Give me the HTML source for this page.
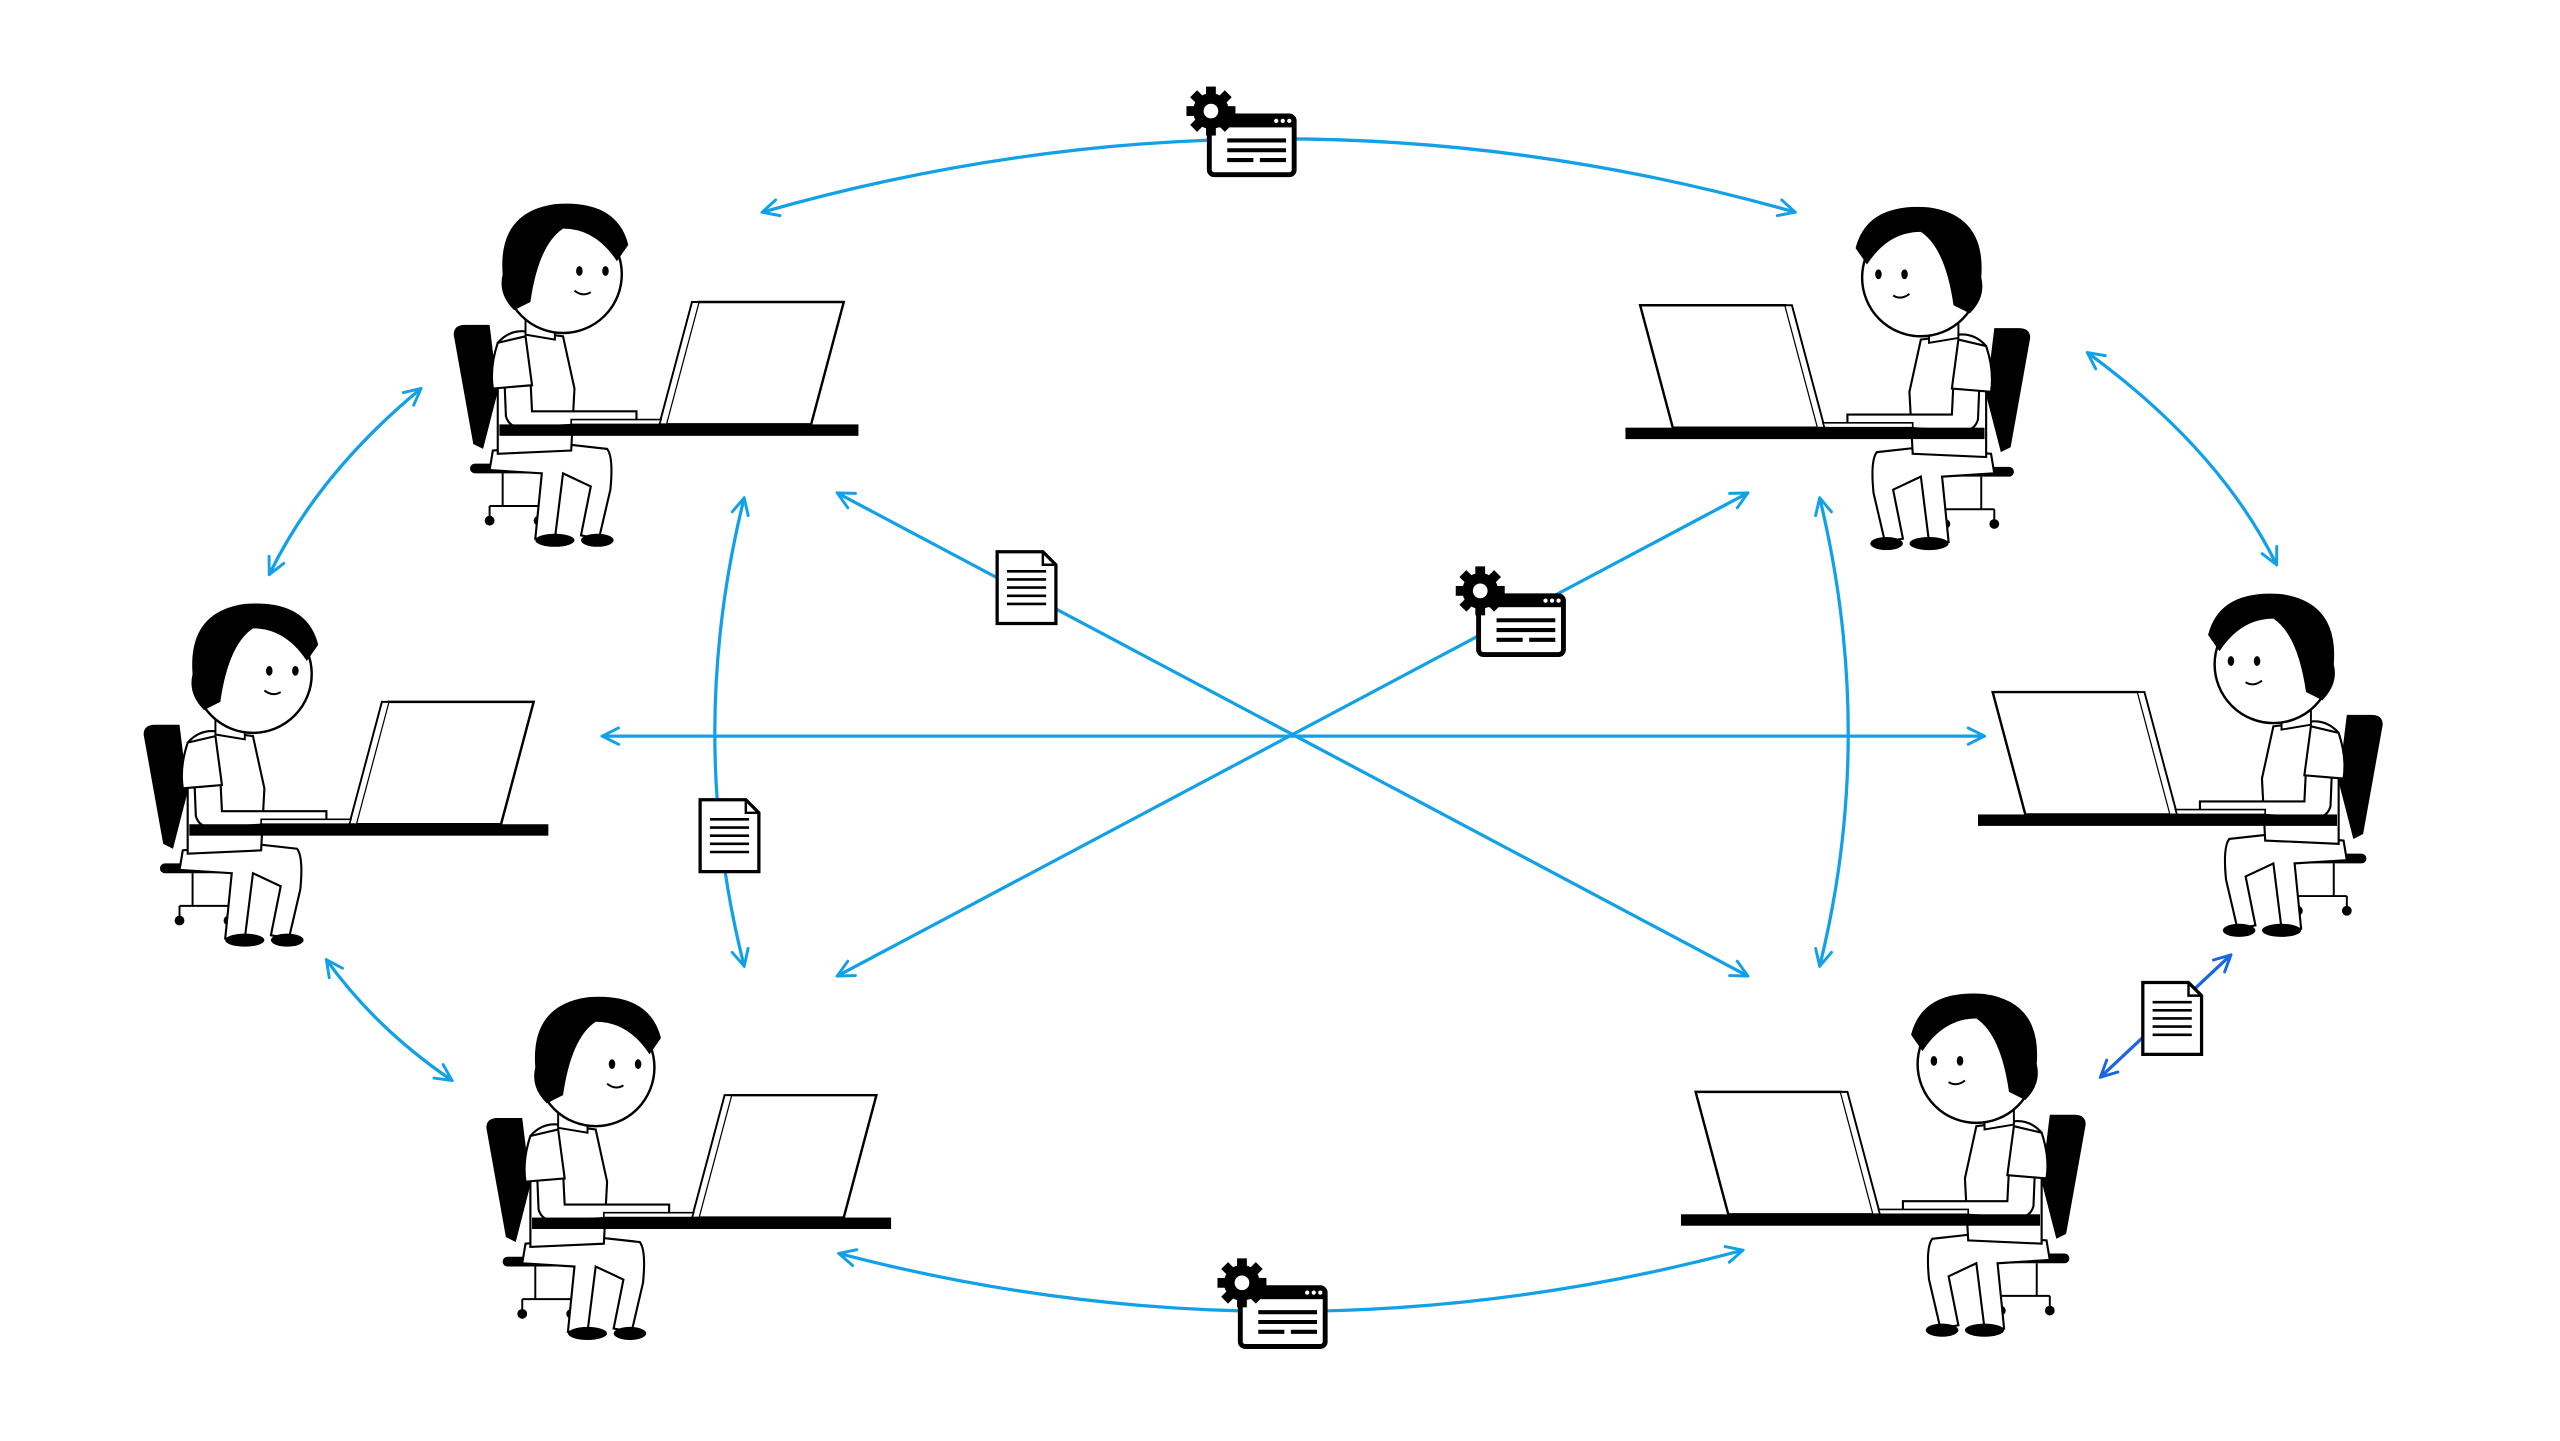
<!DOCTYPE html>
<html><head><meta charset="utf-8"><style>
html,body{margin:0;padding:0;background:#fff;}
svg{display:block;}
</style></head><body>
<svg width="2560" height="1441" viewBox="0 0 1560 878" xmlns="http://www.w3.org/2000/svg">
<defs>
<marker id="ah" viewBox="0 0 12 12" refX="11" refY="6" markerWidth="12" markerHeight="12" markerUnits="userSpaceOnUse" orient="auto-start-reverse">
<path d="M1,1 L11,6 L1,11" fill="none" stroke="#12a0e6" stroke-width="1.8" stroke-linecap="round"/>
</marker>
<marker id="ah2" viewBox="0 0 12 12" refX="11" refY="6" markerWidth="12" markerHeight="12" markerUnits="userSpaceOnUse" orient="auto-start-reverse">
<path d="M1,1 L11,6 L1,11" fill="none" stroke="#1a66e0" stroke-width="1.8" stroke-linecap="round"/>
</marker>
<g id="person">
  <path d="M278,205 Q278,199 285,199 L300,199 L305,240 L296,275 L290,272 Z" fill="#000"/>
  <rect x="288" y="284" width="65" height="6" rx="3" fill="#000"/>
  <path d="M308,290 V310 M300,310 H330 M300,310 V318 M330,310 V318" stroke="#000" stroke-width="1.2" fill="none"/>
  <circle cx="300" cy="319" r="3" fill="#000"/><circle cx="330" cy="319" r="3" fill="#000"/>
  <path d="M302,276 L345,272 L372,275 Q376,280 374,300 L367,330 L356,328 L362,298 L345,290 L340,330 L328,330 L332,290 L300,288 Z" fill="#fff" stroke="#000" stroke-width="1.3"/>
  <ellipse cx="340" cy="331" rx="12" ry="4" fill="#000"/><ellipse cx="366" cy="331" rx="10" ry="4" fill="#000"/>
  <path d="M305,210 Q312,202 322,203 L345,206 L352,238 L350,276 L305,278 Z" fill="#fff" stroke="#000" stroke-width="1.3"/>
  <path d="M309,230 L310,255 Q312,262 320,262 L390,258 L390,252 L326,252 L325,232 Z" fill="#fff" stroke="#000" stroke-width="1.3"/>
  <path d="M305,210 Q300,225 302,238 L326,236 L322,206 Z" fill="#fff" stroke="#000" stroke-width="1.3"/>
  <path d="M322,192 L322,205 L340,208 L340,195 Z" fill="#fff" stroke="#000" stroke-width="1.2"/>
  <circle cx="345" cy="168" r="36" fill="#fff" stroke="#000" stroke-width="1.5"/>
  <path d="M308,168 Q305,130 340,125 Q378,122 385,150 L378,160 Q365,140 345,140 Q330,150 325,185 L315,190 Q305,180 308,168 Z" fill="#000"/>
  <ellipse cx="355" cy="166" rx="2" ry="3" fill="#000"/><ellipse cx="371" cy="166" rx="2" ry="3" fill="#000"/>
  <path d="M352,178 Q357,182 362,179" fill="none" stroke="#000" stroke-width="1.2"/>
  <rect x="306" y="260" width="220" height="7" fill="#000"/>
  <path d="M428,185 L517,185 L497,260 L408,260 Z" fill="#fff" stroke="#000" stroke-width="1.5"/>
  <path d="M428,185 L424,185 L404,260 L408,260" fill="#fff" stroke="#000" stroke-width="1.2"/>
  <path d="M350,257 L405,257 L404,260 L350,260 Z" fill="#fff" stroke="#000" stroke-width="1"/>
</g>
<g id="gearwin">
  <rect x="-21" y="-15" width="52" height="36" rx="3" fill="#fff" stroke="#000" stroke-width="3"/>
  <rect x="-21" y="-15" width="52" height="7" fill="#000"/>
  <circle cx="20" cy="-12" r="1.3" fill="#fff"/><circle cx="24" cy="-12" r="1.3" fill="#fff"/><circle cx="28" cy="-12" r="1.3" fill="#fff"/>
  <path d="M-10,0 H26 M-10,6 H26 M-10,12 H6 M10,12 H26" stroke="#000" stroke-width="2.5"/>
  <circle cx="-20" cy="-18" r="11" fill="#000"/>
  <g fill="#000">
    <rect x="-23" y="-33" width="6" height="8"/><rect x="-23" y="-11" width="6" height="8"/>
    <rect x="-35" y="-21" width="8" height="6"/><rect x="-13" y="-21" width="8" height="6"/>
    <rect x="-23" y="-33" width="6" height="8" transform="rotate(45 -20 -18)"/><rect x="-23" y="-33" width="6" height="8" transform="rotate(-45 -20 -18)"/>
    <rect x="-23" y="-11" width="6" height="8" transform="rotate(45 -20 -18)"/><rect x="-23" y="-11" width="6" height="8" transform="rotate(-45 -20 -18)"/>
  </g>
  <circle cx="-20" cy="-18" r="4.5" fill="#fff"/>
</g>
<g id="doc">
  <path d="M-18,-22 H10 L18,-14 V22 H-18 Z" fill="#fff" stroke="#000" stroke-width="2"/>
  <path d="M10,-22 V-14 H18" fill="none" stroke="#000" stroke-width="1.5"/>
  <path d="M-12,-10 H12 M-12,-5 H12 M-12,0 H12 M-12,5 H12 M-12,10 H12" stroke="#000" stroke-width="1.6"/>
</g>
</defs>
<g transform="scale(0.9945)">
<g fill="none" stroke="#12a0e6" stroke-width="2" marker-start="url(#ah)" marker-end="url(#ah)">
  <path d="M467,130 Q783,40 1100,130"/>
  <path d="M514,768 Q790,840 1068,766"/>
  <path d="M258,238 Q195,290 165,352"/>
  <path d="M200,588 Q230,630 277,662"/>
  <path d="M1279,216 Q1360,275 1395,346"/>
  <path d="M456,305 Q420,450 456,592"/>
  <path d="M1115,305 Q1150,450 1115,592"/>
  <path d="M369,451 L1216,451"/>
  <path d="M513,302 L1071,598"/>
  <path d="M513,598 L1071,302"/>
</g>
<path d="M1287,660 L1367,585" fill="none" stroke="#1a66e0" stroke-width="2" marker-start="url(#ah2)" marker-end="url(#ah2)"/>

<use href="#gearwin" x="762" y="86"/>
<use href="#gearwin" x="781" y="804"/>
<use href="#gearwin" x="927" y="380"/>
<use href="#doc" x="629" y="360"/>
<use href="#doc" x="447" y="512"/>
<use href="#doc" x="1331" y="624"/>

<use href="#person"/>
<use href="#person" transform="translate(-190,245)"/>
<use href="#person" transform="translate(20,486)"/>
<use href="#person" transform="translate(1522,2) scale(-1,1)"/>
<use href="#person" transform="translate(1738,239) scale(-1,1)"/>
<use href="#person" transform="translate(1556,484) scale(-1,1)"/>
</g>
</svg>
</body></html>
